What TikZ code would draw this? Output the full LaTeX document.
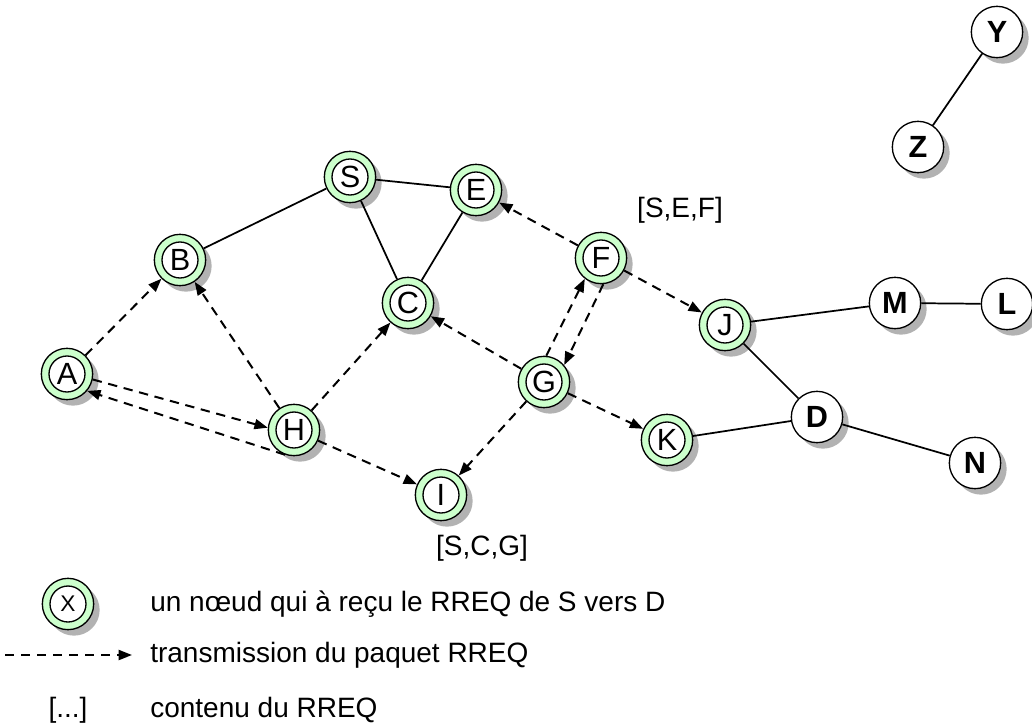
\documentclass[tikz,border=0pt]{standalone}
\usepackage{fontspec}
\setmainfont{Liberation Sans}
\usetikzlibrary{arrows.meta,shadows,positioning}
\definecolor{recu}{RGB}{204,255,204}
\definecolor{ombre}{RGB}{178,178,178}

\begin{document}
\begin{tikzpicture} [x=0.75pt,y=-0.75pt,line width=1.3pt,
  every node/.style={font=\fontsize{21}{25}\selectfont},
  base/.style={circle,draw,line width=1pt,minimum size=38.5pt,inner sep=0pt,
    font=\fontsize{23}{27}\selectfont,
    drop shadow={shadow xshift=4.5pt,shadow yshift=-4.5pt,fill=ombre,opacity=1}},
  recv/.style={base,fill=recu,path picture={\draw[fill=white,line width=1pt]
    (path picture bounding box.center) circle (13.5pt);}},
  plain/.style={base,fill=white,font=\fontsize{23}{27}\selectfont\bfseries},
  rreq/.style={line width=1.5pt,dash pattern=on 7pt off 5pt,
    -{Triangle[length=10pt,width=7.5pt]}}]

  \useasboundingbox (0,0) rectangle (1032,728);

  \node[recv] (S) at (350,177) {S};
  \node[recv] (E) at (476,190) {E};
  \node[recv] (B) at (180,260) {B};
  \node[recv] (C) at (408,303) {C};
  \node[recv] (F) at (601,258) {F};
  \node[recv] (J) at (725,325) {J};
  \node[recv] (A) at (67,374) {A};
  \node[recv] (G) at (544,382) {G};
  \node[recv] (H) at (294,430) {H};
  \node[recv] (K) at (667,440) {K};
  \node[recv] (I) at (441,495) {I};
  \node[plain] (M) at (895,303) {M};
  \node[plain] (L) at (1007,304) {L};
  \node[plain] (D) at (817,417) {D};
  \node[plain] (N) at (975,463) {N};
  \node[plain] (Y) at (997,32) {Y};
  \node[plain] (Z) at (918,147) {Z};

  \node (lsef) at (680,210) {[S,E,F]};
  \node (lscg) at (482,548) {[S,C,G]};

  \path
    (B) edge (S)
    (S) edge (E)
    (S) edge (C)
    (E) edge (C)
    (J) edge (M)
    (M) edge (L)
    (J) edge (D)
    (K) edge (D)
    (D) edge (N)
    (Y) edge (Z);

  \path[rreq]
    (A) edge (B)
    (A.-12) edge (H.175)
    (H.-110) edge (A.-40)
    (H) edge (B)
    (H) edge (C)
    (H) edge (I)
    (G) edge (C)
    (G.85) edge (F.232)
    (F.-85) edge (G.40)
    (G) edge (I)
    (G) edge (K)
    (F) edge (E)
    (F) edge (J);

  \node[recv,font=\fontsize{17}{20}\selectfont] (legmark) at (68,604) {X};
  \node[anchor=west] (legrecv) at (145,604) {un nœud qui à reçu le RREQ de S vers D};
  \coordinate (legfrom) at (5,655);
  \coordinate (legto) at (132,655);
  \draw[rreq] (legfrom) -- (legto);
  \node[anchor=west] (legsend) at (145,655) {transmission du paquet RREQ};
  \node (legdots) at (68,710) {[...]};
  \node[anchor=west] (legcont) at (145,710) {contenu du RREQ};

\end{tikzpicture}
\end{document}
